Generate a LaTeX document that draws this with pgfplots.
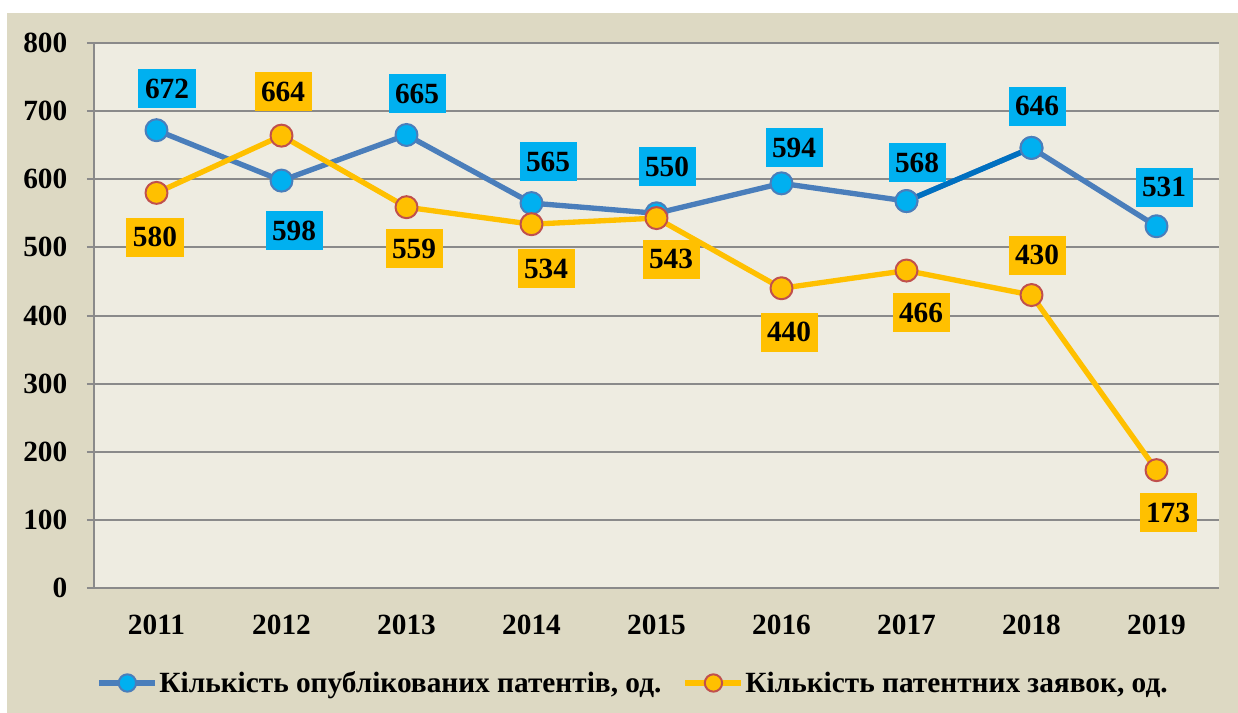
\documentclass[border=0pt]{standalone}
\usepackage{fontspec}
\setmainfont{Liberation Serif}
\usepackage{pgfplots}
\usepackage{pgfplotstable}
\pgfplotsset{compat=1.18}
\definecolor{outerbg}{HTML}{DDD9C3}
\definecolor{plotbg}{HTML}{EEECE1}
\definecolor{gridc}{HTML}{8A8A8A}
\definecolor{bline}{HTML}{4A7EBB}
\definecolor{bdark}{HTML}{0070C0}
\definecolor{bfill}{HTML}{00B0F0}
\definecolor{yline}{HTML}{FFC000}
\definecolor{yedge}{HTML}{C0504D}

\pgfplotstableread{
x y dx dy
0 672 10.5 41.7
1 598 12.5 -50
2 665 10.5 41.5
3 565 16.5 41.5
4 550 10.5 46.8
5 594 12.5 35.8
6 568 10.5 38.5
7 646 5.5 41.5
8 531 7.5 39
}\bluedata
\pgfplotstableread{
x y dx dy
0 580 -1.5 -44.5
1 664 1.5 44
2 559 7.5 -41.3
3 534 14.5 -44.3
4 543 14.5 -41
5 440 7.5 -44
6 466 14.5 -42
7 430 5.5 40
8 173 11.5 -42.4
}\yellowdata
\pgfplotstableread{
x y
6 568
7 646
}\darkseg

\newcommand{\bigfont}{\fontsize{22}{26}\selectfont\bfseries}

\pgfplotsset{
  lbl/.style={
    forget plot, draw=none, mark=none,
    nodes near coords,
    point meta=y,
    visualization depends on={\thisrow{dx}\as\dx},
    visualization depends on={\thisrow{dy}\as\dy},
    every node near coord/.append style={anchor=center, text=black, minimum width=42.75pt, minimum height=29.25pt, inner sep=0pt, xshift={\dx*0.75pt}, yshift={\dy*0.75pt}, font=\bigfont, fill=#1},
  }
}

\begin{document}
\begin{tikzpicture}[font=\bigfont]
\path[use as bounding box, fill=white] (-70.5pt,-93.75pt) rectangle (858pt,441pt);
\fill[outerbg] (-65.25pt,-93.75pt) rectangle (858pt,431.25pt);
\begin{axis}[
  at={(0pt,0pt)}, anchor=south west,
  scale only axis, width=843.75pt, height=408.75pt,
  xmin=-0.5, xmax=8.5, ymin=0, ymax=800,
  axis background/.style={fill=plotbg},
  axis x line*=bottom, axis y line*=left,
  axis line style={-, gridc, line width=1.5pt},
  ymajorgrids, grid style={gridc, line width=1.5pt},
  ytick={0,100,...,800},
  xtick={0,...,8}, xticklabels={2011,2012,2013,2014,2015,2016,2017,2018,2019},
  xtick style={draw=none},
  extra x ticks={-0.5,0.5,...,8.5}, extra x tick labels={},
  extra x tick style={tick align=outside, major tick length=5.25pt, tick style={draw=gridc, line width=1.5pt}, grid=none},
  ytick style={draw=gridc, line width=1.5pt},
  tick align=outside, major tick length=5.25pt,
  /pgf/number format/assume math mode=true,
  ticklabel style={font=\bigfont},
  yticklabel style={xshift=-11.25pt},
  xticklabel style={yshift=-11.75pt},
  legend style={draw=none, fill=none, legend columns=2, at={(rel axis cs:0.479,-0.1743)}, anchor=center,
    font=\bigfont, /tikz/every even column/.append style={column sep=15pt},
    nodes={inner sep=1pt}},
  legend image code/.code={\draw[mark repeat=2,mark phase=2,#1, mark size=6.5pt] plot coordinates {(0pt,0pt) (21pt,0pt) (42pt,0pt)};},
]
\addplot[bline, line width=4pt, line join=round, mark=*, mark size=8.25pt,
  mark options={fill=bfill, draw=bline, line width=1.5pt}] table[x=x,y=y] {\bluedata};
\addlegendentry{Кількість опублікованих патентів, од.}
\addplot[bdark, line width=4pt, forget plot] table[x=x,y=y] {\darkseg};
\addplot[only marks, mark=*, mark size=8.25pt, forget plot,
  mark options={fill=bfill, draw=bline, line width=1.5pt}] table[x=x,y=y] {\darkseg};
\addplot[yline, line width=4pt, line join=round, mark=*, mark size=8.25pt,
  mark options={fill=yline, draw=yedge, line width=1.5pt}] table[x=x,y=y] {\yellowdata};
\addlegendentry{Кількість патентних заявок, од.}
\addplot[lbl=bfill] table[x=x,y=y] {\bluedata};
\addplot[lbl=yline] table[x=x,y=y] {\yellowdata};
\end{axis}
\end{tikzpicture}
\end{document}
